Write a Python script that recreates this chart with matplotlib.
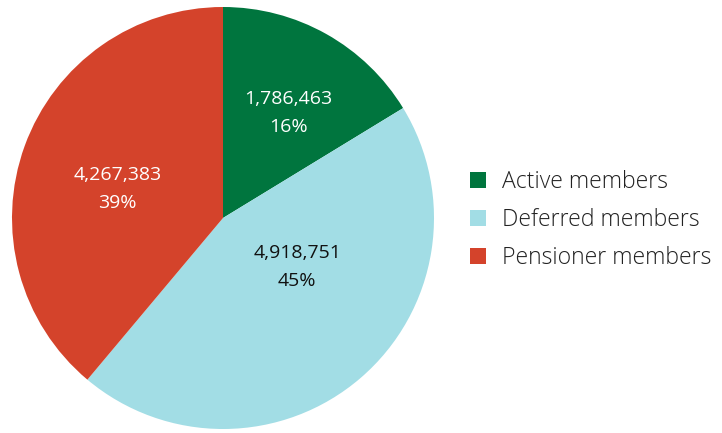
import matplotlib
matplotlib.use("Agg")
import matplotlib.pyplot as plt
import numpy as np
from matplotlib.patches import Patch

categories = ["Active members", "Deferred members", "Pensioner members"]
values = [1786463, 4918751, 4267383]
colors = ["#00753E", "#A2DDE5", "#D4432B"]
text_colors = ["white", "#111111", "white"]

plt.rcParams['font.family'] = ['Open Sans', 'DejaVu Sans']

fig = plt.figure(figsize=(7.22, 4.33), dpi=100)
ax = fig.add_axes([12/722, 4/433, 422/722, 422/433])
wedges, _ = ax.pie(values, colors=colors, startangle=90, counterclock=False,
                   wedgeprops=dict(linewidth=0))
ax.set_xlim(-1, 1); ax.set_ylim(-1, 1)
ax.set_aspect('equal')

total = sum(values)
# label placement (radius fraction, angle offset in degrees) per wedge
place = [(0.585, -2.5), (0.42, 16.0), (0.52, 4.5)]
for w, v, tc, (r, off) in zip(wedges, values, text_colors, place):
    mid = np.deg2rad((w.theta1 + w.theta2) / 2 + off)
    ax.text(r*np.cos(mid), r*np.sin(mid), f"{v:,}\n{v/total*100:.0f}%",
            ha='center', va='center', color=tc, fontsize=14, linespacing=1.7)

handles = [Patch(facecolor=c, edgecolor='none') for c in colors]
leg = fig.legend(handles, categories, loc='center left', bbox_to_anchor=(449/722, 1-220/433),
                 frameon=False, fontsize=16.6, handlelength=0.7, handleheight=0.7,
                 handletextpad=0.72, labelspacing=0.62)
for t in leg.get_texts():
    t.set_fontweight('light')
    t.set_color('#222222')

fig.savefig("out.png", dpi=100)
